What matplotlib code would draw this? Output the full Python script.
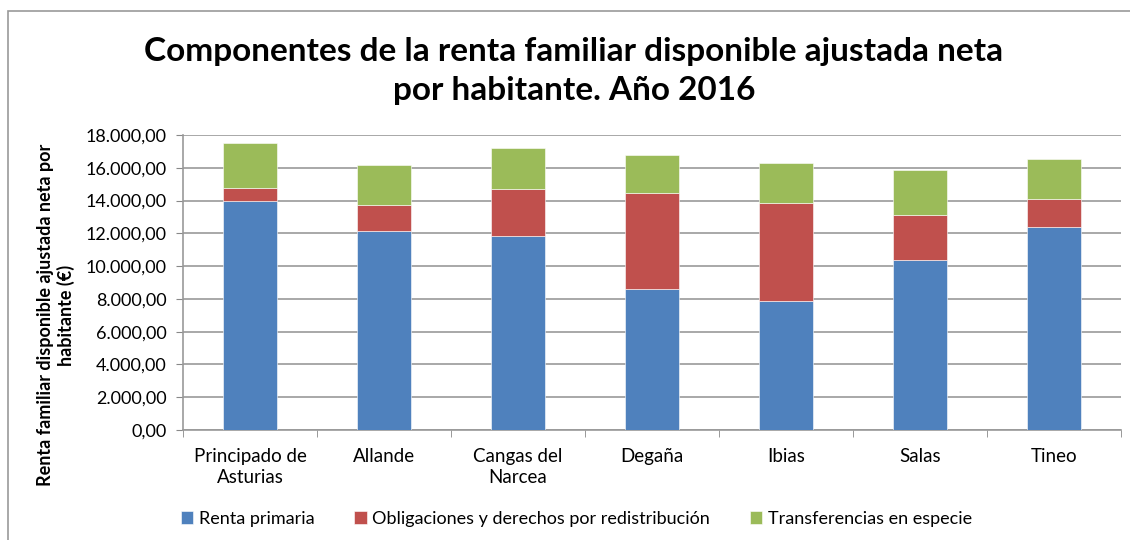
import matplotlib
matplotlib.use("Agg")
import matplotlib.pyplot as plt
from matplotlib.patches import Rectangle
from matplotlib.ticker import FuncFormatter, MultipleLocator
import numpy as np

categories = ["Principado de\nAsturias", "Allande", "Cangas del\nNarcea", "Degaña", "Ibias", "Salas", "Tineo"]
renta_primaria = [13970, 12160, 11850, 8620, 7890, 10370, 12370]
obligaciones = [815, 1570, 2850, 5860, 5980, 2750, 1745]
transferencias = [2710, 2440, 2520, 2300, 2420, 2745, 2440]
series_names = ["Renta primaria", "Obligaciones y derechos por redistribución", "Transferencias en especie"]
colors = ["#4F81BD", "#C0504D", "#9BBB59"]

plt.rcParams['font.family'] = ['Lato', 'DejaVu Sans']

fig = plt.figure(figsize=(11.3, 5.4), dpi=100)
ax = fig.add_axes([183/1130, 110/540, (1121-183)/1130, (430-135)/540])

x = np.arange(len(categories))
bottom = np.zeros(len(categories))
for vals, name, c in zip([renta_primaria, obligaciones, transferencias], series_names, colors):
    ax.bar(x, vals, width=0.4, bottom=bottom, color=c, label=name, edgecolor="white", linewidth=0.4, zorder=3)
    bottom += np.array(vals)

ax.set_xlim(-0.5, len(categories) - 0.5)
ax.set_ylim(0, 18000)
ax.yaxis.set_major_locator(MultipleLocator(2000))
ax.yaxis.set_major_formatter(FuncFormatter(lambda v, p: f"{v:,.2f}".replace(",", "X").replace(".", ",").replace("X", ".")))
ax.set_xticks(x)
ax.set_xticklabels(categories, fontsize=13.5, linespacing=1.25)
ax.set_xticks(np.arange(len(categories) + 1) - 0.5, minor=True)
ax.tick_params(axis='x', which='major', length=0, pad=13)
ax.tick_params(axis='x', which='minor', length=5, color="#888888")
ax.tick_params(axis='y', length=5, color="#888888", labelsize=13, pad=7)
ax.grid(axis='y', color="#999999", linewidth=1.2, zorder=0)
for s in ["top", "right"]:
    ax.spines[s].set_visible(False)
for s in ["left", "bottom"]:
    ax.spines[s].set_color("#999999")
    ax.spines[s].set_linewidth(1.2)

ax.set_ylabel("Renta familiar disponible ajustada neta por\nhabitante (€)", fontsize=13, fontweight="bold")
ax.yaxis.set_label_coords(-0.115, 0.39)

fig.text(0.508, 1 - 71/540, "Componentes de la renta familiar disponible ajustada neta\npor habitante. Año 2016",
         ha="center", va="center", fontsize=24, fontweight="bold", linespacing=1.4)

fig.legend(loc="center", bbox_to_anchor=(0.51, 1 - 519/540), ncol=3, frameon=False, fontsize=13,
           handlelength=0.7, handleheight=0.7, columnspacing=2.2, handletextpad=0.3)

fig.add_artist(Rectangle((8/1130, -0.1), 1.2, 1 - 11/540 + 0.1, transform=fig.transFigure,
                         fill=False, edgecolor="#999999", linewidth=1.2))

fig.savefig("out.png", dpi=100)
